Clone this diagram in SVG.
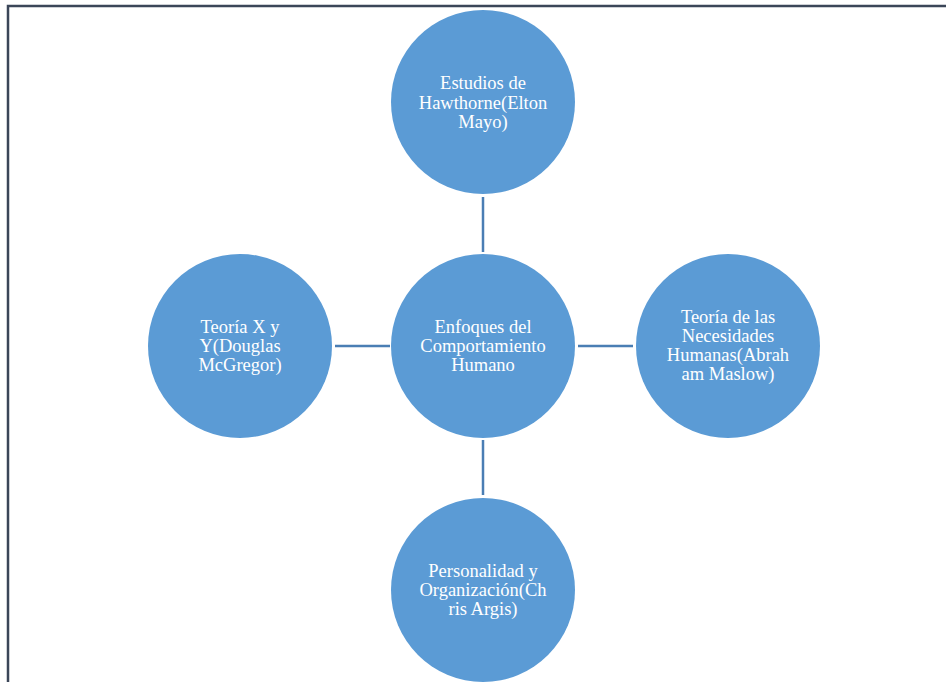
<svg xmlns="http://www.w3.org/2000/svg" width="946" height="682" viewBox="0 0 946 682">
<style>
.n{fill:#5b9bd5;}
.t{fill:#ffffff;font-family:"Liberation Serif","Times New Roman",serif;font-size:18.5px;text-anchor:middle;}
.c{stroke:#4a7eb4;stroke-width:2.5;fill:none;}
</style>
<rect width="946" height="682" fill="#ffffff"/>
<polyline points="8,682 8,6 946,6" fill="none" stroke="#3b4658" stroke-width="2.5"/>
<g id="connectors">
<line class="c" x1="483" y1="197" x2="483" y2="252"/>
<line class="c" x1="483" y1="440" x2="483" y2="495"/>
<line class="c" x1="335" y1="346" x2="390" y2="346"/>
<line class="c" x1="578" y1="346" x2="633" y2="346"/>
</g>
<g id="center">
<circle class="n" cx="483" cy="346" r="92"/>
<text class="t" x="483" y="333">Enfoques del</text>
<text class="t" x="483" y="352">Comportamiento</text>
<text class="t" x="483" y="371">Humano</text>
</g>
<g id="top">
<circle class="n" cx="483" cy="102" r="92"/>
<text class="t" x="483" y="89">Estudios de</text>
<text class="t" x="483" y="109">Hawthorne(Elton</text>
<text class="t" x="483" y="128">Mayo)</text>
</g>
<g id="right">
<circle class="n" cx="728" cy="346" r="92"/>
<text class="t" x="728" y="323">Teoría de las</text>
<text class="t" x="728" y="342">Necesidades</text>
<text class="t" x="728" y="361">Humanas(Abrah</text>
<text class="t" x="728" y="380">am Maslow)</text>
</g>
<g id="left">
<circle class="n" cx="240" cy="346" r="92"/>
<text class="t" x="240" y="333">Teoría X y</text>
<text class="t" x="240" y="352">Y(Douglas</text>
<text class="t" x="240" y="371">McGregor)</text>
</g>
<g id="bottom">
<circle class="n" cx="483" cy="590" r="92"/>
<text class="t" x="483" y="577">Personalidad y</text>
<text class="t" x="483" y="596">Organización(Ch</text>
<text class="t" x="483" y="615">ris Argis)</text>
</g>
</svg>
